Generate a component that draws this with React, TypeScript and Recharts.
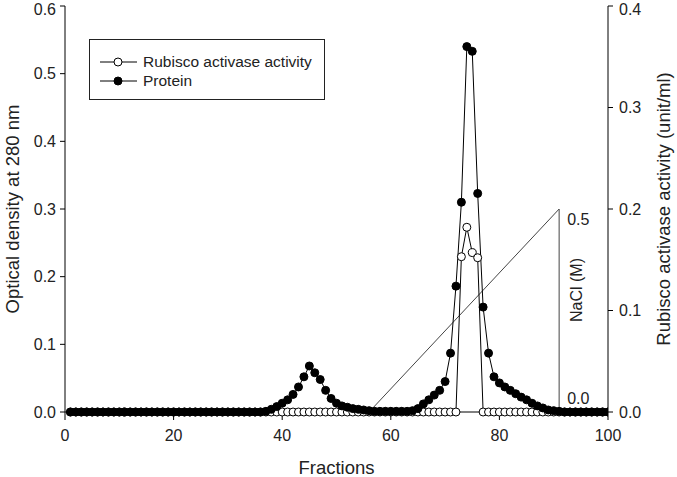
import React from 'react';
import { ComposedChart, Line, XAxis, YAxis, Legend } from 'recharts';

const fractions: number[] = Array.from({ length: 100 }, (_, i) => i + 1);

// Protein (optical density at 280 nm), fractions 1..100
const protein: number[] = [
  0, 0, 0, 0, 0, 0, 0, 0, 0, 0,
  0, 0, 0, 0, 0, 0, 0, 0, 0, 0,
  0, 0, 0, 0, 0, 0, 0, 0, 0, 0,
  0, 0, 0, 0, 0, 0, 0.001, 0.004, 0.008, 0.013,
  0.018, 0.026, 0.037, 0.052, 0.068, 0.058, 0.048, 0.032, 0.02, 0.013,
  0.009, 0.007, 0.005, 0.004, 0.003, 0.002, 0.001, 0.001, 0.001, 0.001,
  0.001, 0.001, 0.001, 0.002, 0.005, 0.012, 0.018, 0.025, 0.032, 0.045,
  0.087, 0.186, 0.31, 0.54, 0.533, 0.323, 0.155, 0.087, 0.052, 0.043,
  0.037, 0.032, 0.027, 0.022, 0.018, 0.013, 0.009, 0.006, 0.003, 0.002,
  0.001, 0, 0, 0, 0, 0, 0, 0, 0, 0,
];

// Rubisco activase activity (unit/ml), fractions 1..100
const activity: number[] = fractions.map((f) =>
  f === 73 ? 0.153 : f === 74 ? 0.182 : f === 75 ? 0.157 : f === 76 ? 0.152 : 0
);

// NaCl gradient (M)
const naclFractions: number[] = [56, 91, 91];
const naclValues: number[] = [0, 0.5, 0];

const xTicks: number[] = [0, 20, 40, 60, 80, 100];
const leftTicks: number[] = [0, 0.1, 0.2, 0.3, 0.4, 0.5, 0.6];
const rightTicks: number[] = [0, 0.1, 0.2, 0.3, 0.4];

const data = fractions.map((f, i) => ({ fraction: f, protein: protein[i], activity: activity[i] }));
const naclData = naclFractions.map((f, i) => ({ fraction: f, nacl: naclValues[i] }));

const FONT = 'Liberation Sans, Arial, sans-serif';
const TXT = '#222';

const LegendContent = () => (
  <div
    style={{
      border: '1px solid #222',
      width: 234,
      height: 59,
      boxSizing: 'content-box',
      fontFamily: FONT,
      fontSize: 15.5,
      color: TXT,
      background: '#fff',
    }}
  >
    {[
      { label: 'Rubisco activase activity', fill: '#fff' },
      { label: 'Protein', fill: '#000' },
    ].map((e, i) => (
      <div key={i} style={{ display: 'flex', alignItems: 'center', height: 19, marginTop: i === 0 ? 12 : 0, marginLeft: 10 }}>
        <svg width={38} height={12} style={{ marginRight: 5 }}>
          <line x1={0} y1={6} x2={37} y2={6} stroke="#000" strokeWidth={1} />
          <circle cx={18} cy={6} r={4} fill={e.fill} stroke="#000" strokeWidth={1} />
        </svg>
        <span>{e.label}</span>
      </div>
    ))}
  </div>
);

const renderNaclLabel = (props: any) => {
  const { x, y, index } = props;
  if (index === 1) {
    return (
      <text key="l1" x={x + 8} y={y + 10} dominantBaseline="central" fontSize={16} fontFamily={FONT} fill={TXT}>
        0.5
      </text>
    );
  }
  if (index === 2) {
    return (
      <g key="l2">
        <text x={x + 8} y={y - 14} dominantBaseline="central" fontSize={16} fontFamily={FONT} fill={TXT}>
          0.0
        </text>
        <text
          transform={`translate(${x + 17},${y - 122}) rotate(-90)`}
          textAnchor="middle"
          dominantBaseline="central"
          fontSize={16}
          fontFamily={FONT}
          fill={TXT}
        >
          NaCl (M)
        </text>
      </g>
    );
  }
  return null;
};

const TITLE_SIZE = 18.5;

const axisTitle = (text: string, kind: 'left' | 'right' | 'bottom') => (props: any) => {
  const vb = props.viewBox || {};
  const { x = 0, y = 0, width = 0, height = 0 } = vb;
  if (kind === 'bottom') {
    return (
      <text x={x + width / 2} y={y + 55} textAnchor="middle" dominantBaseline="central" fontSize={TITLE_SIZE} fontFamily={FONT} fill={TXT}>
        {text}
      </text>
    );
  }
  const cx = kind === 'left' ? x + 12 : x + 55;
  return (
    <text
      transform={`translate(${cx},${y + height / 2}) rotate(-90)`}
      textAnchor="middle"
      dominantBaseline="central"
      fontSize={TITLE_SIZE}
      fontFamily={FONT}
      fill={TXT}
    >
      {text}
    </text>
  );
};

const tickStyle = { fontSize: 16, fontFamily: FONT, fill: TXT };

export default function App() {
  return (
    <div style={{ position: 'absolute', left: 0, top: 0, width: 677, height: 477, background: '#fff' }}>
      <ComposedChart width={677} height={477} data={data} margin={{ top: 6, right: 0, left: 0, bottom: 0 }}>
        <XAxis
          type="number"
          dataKey="fraction"
          domain={[0, 100]}
          ticks={xTicks}
          height={65}
          tickSize={8}
          stroke="#000"
          tick={tickStyle}
          tickMargin={10}
          allowDataOverflow
          label={{ content: axisTitle('Fractions', 'bottom') }}
        />
        <YAxis
          yAxisId="left"
          orientation="left"
          domain={[0, 0.6]}
          ticks={leftTicks}
          width={65}
          tickSize={5}
          stroke="#000"
          tick={tickStyle}
          tickMargin={4}
          tickFormatter={(v: number) => v.toFixed(1)}
          label={{ content: axisTitle('Optical density at 280 nm', 'left') }}
        />
        <YAxis
          yAxisId="right"
          orientation="right"
          domain={[0, 0.4]}
          ticks={rightTicks}
          width={69}
          tickSize={5}
          stroke="#000"
          tick={tickStyle}
          tickMargin={6}
          tickFormatter={(v: number) => v.toFixed(1)}
          label={{ content: axisTitle('Rubisco activase activity (unit/ml)', 'right') }}
        />
        <YAxis yAxisId="nacl" hide domain={[0, 1]} />
        <Legend
          layout="vertical"
          align="center"
          verticalAlign="middle"
          content={<LegendContent />}
          wrapperStyle={{ left: 89, top: 39, width: 236, height: 61 }}
        />
        <Line
          yAxisId="nacl"
          data={naclData}
          dataKey="nacl"
          stroke="#444"
          strokeWidth={1}
          dot={false}
          isAnimationActive={false}
          label={renderNaclLabel}
          legendType="none"
        />
        <Line
          yAxisId="right"
          dataKey="activity"
          stroke="#000"
          strokeWidth={1}
          dot={{ r: 4, fill: '#fff', stroke: '#000', strokeWidth: 1 }}
          isAnimationActive={false}
        />
        <Line
          yAxisId="left"
          dataKey="protein"
          stroke="#000"
          strokeWidth={1}
          dot={{ r: 4, fill: '#000', stroke: '#000', strokeWidth: 1 }}
          isAnimationActive={false}
        />
      </ComposedChart>
    </div>
  );
}
